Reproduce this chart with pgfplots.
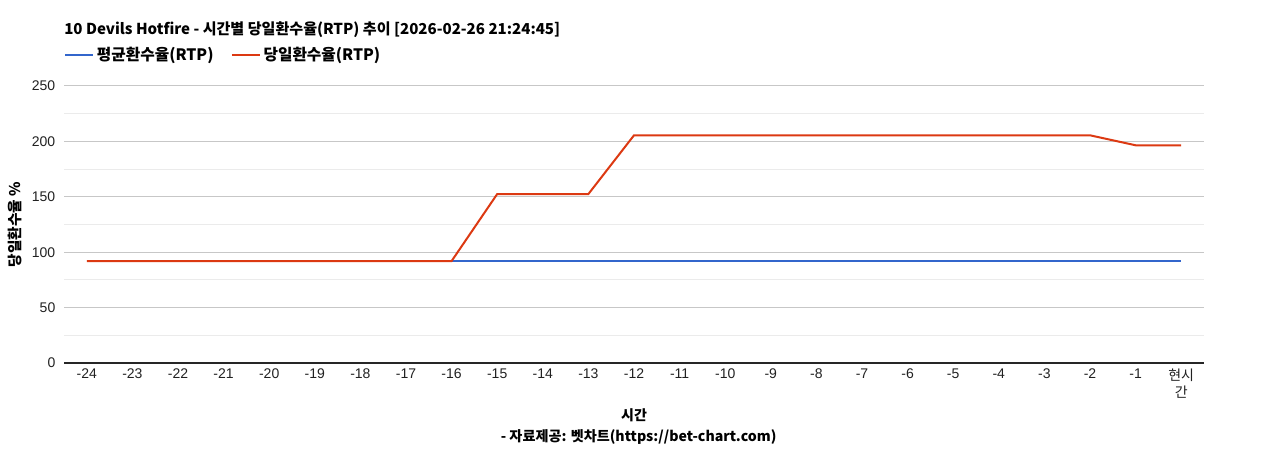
\documentclass[border=0pt]{standalone}
\usepackage{fontspec}
\setmainfont{Liberation Sans}
\newfontfamily\kr{Noto Sans CJK KR}
\usepackage{pgfplots}
\pgfplotsset{compat=1.18}
\definecolor{cblue}{HTML}{3366CC}
\definecolor{cred}{HTML}{DC3912}
\pgfplotstableread{
x avg today
0 92 92
1 92 92
2 92 92
3 92 92
4 92 92
5 92 92
6 92 92
7 92 92
8 92 92
9 92 152.5
10 92 152.5
11 92 152.5
12 92 205.5
13 92 205.5
14 92 205.5
15 92 205.5
16 92 205.5
17 92 205.5
18 92 205.5
19 92 205.5
20 92 205.5
21 92 205.5
22 92 205.5
23 92 196.5
24 92 196.5
}\datatable
\begin{document}
\begin{tikzpicture}
\path (0,0) rectangle (951pt,337.5pt);
\begin{axis}[
  at={(48pt,65.25pt)}, anchor=south west, scale only axis,
  width=855pt, height=207.75pt,
  xmin=-0.5, xmax=24.5, ymin=0, ymax=250,
  xtick={0,...,24},
  xticklabels={-24,-23,-22,-21,-20,-19,-18,-17,-16,-15,-14,-13,-12,-11,-10,-9,-8,-7,-6,-5,-4,-3,-2,-1,{\kr 현시\\\kr 간}},
  ytick={0,50,...,250}, minor ytick={25,75,...,225},
  ymajorgrids, yminorgrids,
  major grid style={draw=black!22, line width=0.75pt},
  minor grid style={draw=black!8, line width=0.75pt},
  axis x line*=bottom, axis y line*=left,
  x axis line style={draw=black!85, line width=0.9pt, -},
  y axis line style={draw=none},
  major tick length=0pt, minor tick length=0pt,
  /pgf/number format/assume math mode=true,
  tick label style={font=\fontsize{10.5}{12.5}\selectfont, text=black!87},
  xticklabel style={align=center, yshift=-1pt},
  yticklabel style={xshift=-3pt},
  xlabel={시간}, ylabel={당일환수율 \%},
  xlabel style={font=\kr\bfseries\fontsize{10.5}{12}\selectfont, at={(axis description cs:0.5,0)}, anchor=center, yshift=-39pt},
  ylabel style={font=\kr\bfseries\fontsize{11}{12}\selectfont, at={(axis description cs:-0.043,0.5)}, anchor=center},
  legend style={at={(axis description cs:0,1)}, anchor=west, yshift=23.25pt,
    draw=none, fill=none, inner sep=0pt, font=\kr\bfseries\fontsize{11.8}{12}\selectfont,
    nodes={inner sep=2pt}},
  legend columns=2,
  legend cell align=left,
  /tikz/every even column/.append style={column sep=11pt},
  legend image code/.code={\draw[#1] (0pt,0pt) -- (21pt,0pt);},
]
\addplot[cblue, line width=1.5pt] table[x=x, y=avg] {\datatable};
\addlegendentry{평균환수율(RTP)}
\addplot[cred, line width=1.5pt] table[x=x, y=today] {\datatable};
\addlegendentry{당일환수율(RTP)}
\end{axis}
\node[anchor=west, inner sep=0pt, font=\kr\bfseries\fontsize{11.3}{12}\selectfont] at (48pt,315pt) {10 Devils Hotfire - 시간별 당일환수율(RTP) 추이 [2026-02-26 21:24:45]};
\node[anchor=center, inner sep=0pt, font=\kr\bfseries\fontsize{10.6}{12}\selectfont] at (479pt,9.75pt) {- 자료제공: 벳차트(https://bet-chart.com)};
\end{tikzpicture}
\end{document}
